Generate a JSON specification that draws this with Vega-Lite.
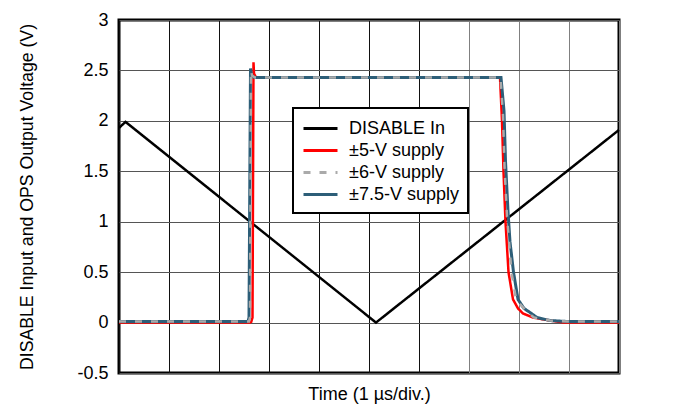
{
  "$schema": "https://vega.github.io/schema/vega-lite/v6.json",
  "autosize": {"type": "none"},
  "padding": {"left": 119, "top": 20, "right": 64, "bottom": 36},
  "width": 500,
  "height": 353,
  "background": "white",
  "config": {
    "font": "Liberation Sans",
    "view": {"stroke": "#000000", "strokeWidth": 3},
    "legend": {
      "orient": "none",
      "legendX": 174,
      "legendY": 88,
      "title": null,
      "padding": 9,
      "rowPadding": 1,
      "labelFont": "Liberation Sans",
      "labelFontSize": 18,
      "labelColor": "#000000",
      "labelLimit": 300,
      "labelOffset": 17,
      "symbolType": "M-1.7,0H1.7",
      "symbolSize": 400,
      "symbolOffset": 7,
      "symbolStrokeWidth": 3,
      "strokeColor": "#000000",
      "strokeWidth": 2,
      "fillColor": "#ffffff"
    }
  },
  "data": {
    "values": [
      {"series": "DISABLE In", "t": 0, "v": 1.93},
      {"series": "DISABLE In", "t": 0.13, "v": 1.99},
      {"series": "DISABLE In", "t": 5.14, "v": 0},
      {"series": "DISABLE In", "t": 10, "v": 1.91},

      {"series": "±5-V supply", "t": 0, "v": 0},
      {"series": "±5-V supply", "t": 2.64, "v": 0},
      {"series": "±5-V supply", "t": 2.67, "v": 0.05},
      {"series": "±5-V supply", "t": 2.69, "v": 2.58},
      {"series": "±5-V supply", "t": 2.7, "v": 2.47},
      {"series": "±5-V supply", "t": 2.74, "v": 2.43},
      {"series": "±5-V supply", "t": 7.62, "v": 2.43},
      {"series": "±5-V supply", "t": 7.66, "v": 2.0},
      {"series": "±5-V supply", "t": 7.69, "v": 1.5},
      {"series": "±5-V supply", "t": 7.73, "v": 1.0},
      {"series": "±5-V supply", "t": 7.79, "v": 0.5},
      {"series": "±5-V supply", "t": 7.88, "v": 0.23},
      {"series": "±5-V supply", "t": 7.98, "v": 0.14},
      {"series": "±5-V supply", "t": 8.08, "v": 0.09},
      {"series": "±5-V supply", "t": 8.28, "v": 0.05},
      {"series": "±5-V supply", "t": 8.62, "v": 0.02},
      {"series": "±5-V supply", "t": 8.9, "v": 0.0},
      {"series": "±5-V supply", "t": 10, "v": 0.0},

      {"series": "±7.5-V supply", "t": 0, "v": 0.01},
      {"series": "±7.5-V supply", "t": 2.58, "v": 0.01},
      {"series": "±7.5-V supply", "t": 2.6, "v": 0.05},
      {"series": "±7.5-V supply", "t": 2.63, "v": 2.52},
      {"series": "±7.5-V supply", "t": 2.65, "v": 2.46},
      {"series": "±7.5-V supply", "t": 2.7, "v": 2.43},
      {"series": "±7.5-V supply", "t": 7.64, "v": 2.43},
      {"series": "±7.5-V supply", "t": 7.7, "v": 2.1},
      {"series": "±7.5-V supply", "t": 7.73, "v": 1.6},
      {"series": "±7.5-V supply", "t": 7.78, "v": 1.1},
      {"series": "±7.5-V supply", "t": 7.82, "v": 0.8},
      {"series": "±7.5-V supply", "t": 7.89, "v": 0.5},
      {"series": "±7.5-V supply", "t": 7.98, "v": 0.23},
      {"series": "±7.5-V supply", "t": 8.1, "v": 0.14},
      {"series": "±7.5-V supply", "t": 8.22, "v": 0.1},
      {"series": "±7.5-V supply", "t": 8.36, "v": 0.05},
      {"series": "±7.5-V supply", "t": 8.62, "v": 0.02},
      {"series": "±7.5-V supply", "t": 9.0, "v": 0.01},
      {"series": "±7.5-V supply", "t": 10, "v": 0.01},

      {"series": "±6-V supply", "t": 0, "v": 0.01},
      {"series": "±6-V supply", "t": 2.6, "v": 0.01},
      {"series": "±6-V supply", "t": 2.62, "v": 0.05},
      {"series": "±6-V supply", "t": 2.64, "v": 2.5},
      {"series": "±6-V supply", "t": 2.66, "v": 2.45},
      {"series": "±6-V supply", "t": 2.72, "v": 2.43},
      {"series": "±6-V supply", "t": 7.63, "v": 2.43},
      {"series": "±6-V supply", "t": 7.68, "v": 2.05},
      {"series": "±6-V supply", "t": 7.71, "v": 1.55},
      {"series": "±6-V supply", "t": 7.76, "v": 1.05},
      {"series": "±6-V supply", "t": 7.85, "v": 0.5},
      {"series": "±6-V supply", "t": 7.94, "v": 0.23},
      {"series": "±6-V supply", "t": 8.15, "v": 0.11},
      {"series": "±6-V supply", "t": 8.3, "v": 0.05},
      {"series": "±6-V supply", "t": 8.62, "v": 0.02},
      {"series": "±6-V supply", "t": 9.0, "v": 0.01},
      {"series": "±6-V supply", "t": 10, "v": 0.01}
    ]
  },
  "encoding": {
    "x": {
      "field": "t",
      "type": "quantitative",
      "scale": {"domain": [0, 10], "nice": false, "zero": false},
      "axis": {
        "title": "Time (1 µs/div.)",
        "titleFont": "Liberation Sans",
        "titleFontSize": 18,
        "titleFontWeight": "normal",
        "titleColor": "#000000",
        "titlePadding": 12,
        "labels": false,
        "ticks": false,
        "domain": false,
        "values": [0, 1, 2, 3, 4, 5, 6, 7, 8, 9, 10],
        "grid": true,
        "gridColor": {"condition": {"test": "datum.value >= 7", "value": "#808080"}, "value": "#111111"},
        "gridWidth": 1,
        "gridOpacity": 1
      }
    },
    "y": {
      "field": "v",
      "type": "quantitative",
      "scale": {"domain": [-0.5, 3], "nice": false, "zero": false},
      "axis": {
        "title": "DISABLE Input and OPS Output Voltage (V)",
        "titleFont": "Liberation Sans",
        "titleFontSize": 17.7,
        "titleFontWeight": "normal",
        "titleColor": "#000000",
        "titlePadding": 40,
        "values": [-0.5, 0, 0.5, 1, 1.5, 2, 2.5, 3],
        "labelExpr": "datum.value",
        "labelFont": "Liberation Sans",
        "labelFontSize": 18,
        "labelColor": "#000000",
        "labelPadding": 11,
        "ticks": false,
        "domain": false,
        "grid": true,
        "gridColor": "#555555",
        "gridWidth": 1,
        "gridOpacity": 1
      }
    },
    "color": {
      "field": "series",
      "type": "nominal",
      "scale": {
        "domain": ["DISABLE In", "±5-V supply", "±6-V supply", "±7.5-V supply"],
        "range": ["#000000", "#FF0000", "#AAAAAA", "#2D5E78"]
      },
      "legend": {}
    },
    "strokeDash": {
      "field": "series",
      "type": "nominal",
      "scale": {
        "domain": ["DISABLE In", "±5-V supply", "±6-V supply", "±7.5-V supply"],
        "range": [[1, 0], [1, 0], [7, 9], [1, 0]]
      },
      "legend": {}
    }
  },
  "layer": [
    {
      "transform": [{"filter": "datum.series === 'DISABLE In'"}],
      "mark": {"type": "line", "strokeWidth": 2.5}
    },
    {
      "transform": [{"filter": "datum.series === '±5-V supply'"}],
      "mark": {"type": "line", "strokeWidth": 2.5}
    },
    {
      "transform": [{"filter": "datum.series === '±7.5-V supply'"}],
      "mark": {"type": "line", "strokeWidth": 3}
    },
    {
      "transform": [{"filter": "datum.series === '±6-V supply'"}],
      "mark": {"type": "line", "strokeWidth": 2.5}
    }
  ]
}
